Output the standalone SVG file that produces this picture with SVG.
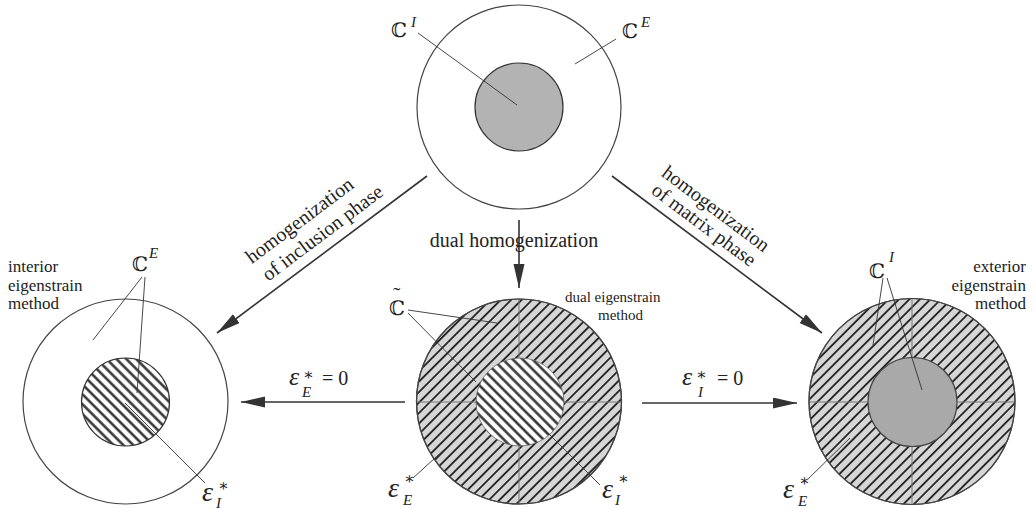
<svg xmlns="http://www.w3.org/2000/svg" width="1035" height="509" viewBox="0 0 1035 509">
<style>
.t{font-family:"Liberation Serif","DejaVu Serif",serif;fill:#222}
.bb{font-family:"DejaVu Serif","DejaVu Sans",serif;font-size:20px;fill:#222}
.it{font-family:"Liberation Serif","DejaVu Serif",serif;font-style:italic;fill:#222}
.st{font-family:"DejaVu Serif","DejaVu Sans",serif;font-size:16px;fill:#222}
.lead{stroke:#333;stroke-width:0.9;fill:none}
.arr{stroke:#333;stroke-width:1.6;fill:none;marker-end:url(#ah)}
.ring{stroke:#444;stroke-width:1.2}
.cross{stroke:#777;stroke-width:1}
</style>
<defs>
<marker id="ah" markerUnits="userSpaceOnUse" markerWidth="25" markerHeight="12" refX="24" refY="5.5" orient="auto">
<path d="M0,0 L24,5.5 L0,11 z" fill="#333"/>
</marker>
<pattern id="hatchA" patternUnits="userSpaceOnUse" width="7.4" height="7.4" patternTransform="rotate(45)">
<rect width="7.4" height="7.4" fill="#d6d6d6"/>
<line x1="3.7" y1="0" x2="3.7" y2="7.4" stroke="#262626" stroke-width="1.9"/>
</pattern>
<pattern id="hatchB" patternUnits="userSpaceOnUse" width="7" height="7" patternTransform="rotate(-45)">
<rect width="7" height="7" fill="#fff"/>
<line x1="3.5" y1="0" x2="3.5" y2="7" stroke="#2a2a2a" stroke-width="2.4"/>
</pattern>
</defs>
<rect width="1035" height="509" fill="#fff"/>

<g id="top">
<circle cx="519" cy="107" r="102" fill="#fff" class="ring"/>
<circle cx="519" cy="107" r="44" fill="#b3b3b3" stroke="#333" stroke-width="1.2"/>
<line class="lead" x1="418" y1="33" x2="517" y2="105"/>
<line class="lead" x1="616" y1="39" x2="575" y2="64"/>
<text class="bb" x="391" y="37">ℂ</text><text class="it" x="411" y="27" font-size="15">I</text>
<text class="bb" x="622" y="38">ℂ</text><text class="it" x="641" y="27" font-size="15">E</text>
</g>

<g id="left">
<circle cx="125.5" cy="401.5" r="102.5" fill="#fff" class="ring"/>
<circle cx="125.5" cy="402" r="44" fill="url(#hatchB)" stroke="#333" stroke-width="1.2"/>
<line class="lead" x1="142" y1="277" x2="93" y2="340"/>
<line class="lead" x1="145" y1="277" x2="137" y2="393"/>
<line class="lead" x1="125" y1="403" x2="205" y2="483"/>
<text class="bb" x="132" y="271">ℂ</text><text class="it" x="149" y="258" font-size="15">E</text>
<text class="t" font-size="17" x="8" y="272">interior</text>
<text class="t" font-size="17" x="8" y="291">eigenstrain</text>
<text class="t" font-size="17" x="8" y="309">method</text>
<text class="it" font-size="28" x="202" y="501">ε</text><text class="st" x="218" y="491">∗</text><text class="it" font-size="15" x="216" y="508">I</text>
</g>

<g id="middle">
<circle cx="519" cy="401.5" r="102.5" fill="url(#hatchA)" class="ring"/>
<line class="cross" x1="416.5" y1="402" x2="621.5" y2="402"/>
<line class="cross" x1="519" y1="299" x2="519" y2="504"/>
<circle cx="519" cy="401.5" r="102.5" fill="none" class="ring"/>
<circle cx="520" cy="402" r="44" fill="url(#hatchB)" stroke="#666" stroke-width="0.8"/>
<line class="lead" x1="408" y1="310" x2="497" y2="323"/>
<line class="lead" x1="408" y1="313" x2="476" y2="382"/>
<line class="lead" x1="413" y1="478" x2="457" y2="438"/>
<line class="lead" x1="600" y1="485" x2="530" y2="415"/>
<text class="bb" x="389" y="315">ℂ</text><text class="t" font-size="22" x="393" y="302">˜</text>
<text class="t" font-size="15" x="565" y="302">dual  eigenstrain</text>
<text class="t" font-size="15" x="598" y="320">method</text>
<text class="it" font-size="28" x="388" y="497">ε</text><text class="st" x="404" y="484">∗</text><text class="it" font-size="15" x="403" y="505">E</text>
<text class="it" font-size="28" x="602" y="498">ε</text><text class="st" x="618" y="484">∗</text><text class="it" font-size="15" x="615" y="505">I</text>
</g>

<g id="right">
<circle cx="912" cy="401.5" r="103" fill="url(#hatchA)" class="ring"/>
<line class="cross" x1="809" y1="402" x2="1015" y2="402"/>
<line class="cross" x1="912" y1="299" x2="912" y2="504"/>
<circle cx="912" cy="401.5" r="103" fill="none" class="ring"/>
<circle cx="912.5" cy="402" r="44.5" fill="#a9a9a9" stroke="#444" stroke-width="1.2"/>
<line class="lead" x1="883" y1="278" x2="873" y2="345"/>
<line class="lead" x1="887" y1="278" x2="922" y2="390"/>
<line class="lead" x1="808" y1="479" x2="850" y2="438"/>
<text class="bb" x="869" y="278">ℂ</text><text class="it" x="889" y="262" font-size="15">I</text>
<text class="t" font-size="17" x="1026" y="272" text-anchor="end">exterior</text>
<text class="t" font-size="17" x="1026" y="291" text-anchor="end">eigenstrain</text>
<text class="t" font-size="17" x="1026" y="309" text-anchor="end">method</text>
<text class="it" font-size="28" x="783" y="498">ε</text><text class="st" x="799" y="486">∗</text><text class="it" font-size="15" x="798" y="506">E</text>
</g>

<g id="connectors">
<line class="arr" x1="427" y1="176" x2="217" y2="333"/>
<line class="arr" x1="612" y1="176" x2="822" y2="333"/>
<line class="arr" x1="519" y1="220" x2="519" y2="288"/>
<line class="arr" x1="405" y1="402" x2="241" y2="402"/>
<line class="arr" x1="642" y1="403" x2="797" y2="403"/>
<g transform="translate(303.4,225.7) rotate(-36.87)"><text class="t" font-size="20" text-anchor="middle">homogenization</text></g>
<g transform="translate(326.4,238) rotate(-36.87)"><text class="t" font-size="20" text-anchor="middle">of inclusion  phase</text></g>
<g transform="translate(712,214) rotate(36.87)"><text class="t" font-size="20" text-anchor="middle">homogenization</text></g>
<g transform="translate(700,230) rotate(36.87)"><text class="t" font-size="20" text-anchor="middle">of matrix  phase</text></g>
<text class="t" font-size="20" x="514" y="247" text-anchor="middle">dual  homogenization</text>
<text class="it" font-size="26" x="289" y="385">ε</text><text class="st" x="303" y="380">∗</text><text class="it" font-size="15" x="302" y="397">E</text><text class="t" font-size="20" x="322" y="385">= 0</text>
<text class="it" font-size="26" x="682" y="385">ε</text><text class="st" x="696" y="380">∗</text><text class="it" font-size="15" x="698" y="397">I</text><text class="t" font-size="20" x="717" y="385">= 0</text>
</g>
</svg>
